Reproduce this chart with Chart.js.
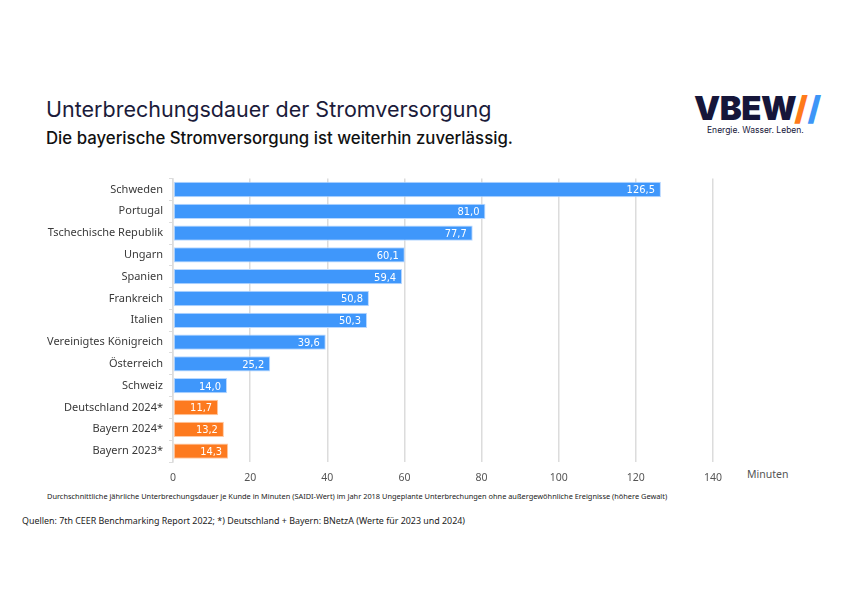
<!DOCTYPE html>
<html>
<head>
<meta charset="utf-8">
<script src="https://cdn.jsdelivr.net/npm/chart.js@4.4.1/dist/chart.umd.min.js"></script>
<style>
  html, body { margin: 0; padding: 0; background: #fff; }
  body { width: 842px; height: 595px; position: relative; overflow: hidden; font-family: "Noto Sans", sans-serif; }
  .title { position: absolute; left: 46px; top: 96px; font-family: "Inter", sans-serif; font-size: 21.5px; color: #1b1b3a; }
  .subtitle { position: absolute; left: 46px; top: 128px; font-family: "Inter", sans-serif; font-size: 16.8px; font-weight: 500; color: #111; }
  .logo { position: absolute; left: 694px; top: 88px; font-family: "Inter", sans-serif; font-weight: 900; font-size: 33px; color: #16163a; letter-spacing: -0.5px; }
  .logo .o { color: #ff7a1a; }
  .logo .b { color: #3d96f7; }
  .claim { position: absolute; left: 707px; top: 125px; font-family: "Inter", sans-serif; font-size: 8.5px; color: #16163a; }
  .unit { position: absolute; left: 747px; top: 467px; font-size: 10.5px; color: #555; }
  .note { position: absolute; left: 47px; top: 491px; font-size: 7.4px; color: #222; }
  .src { position: absolute; left: 22px; top: 514px; font-size: 8.9px; color: #222; }
  #wrap { position: absolute; left: 30px; top: 166px; width: 780px; height: 324px; }
</style>
</head>
<body>
<div class="title">Unterbrechungsdauer der Stromversorgung</div>
<div class="subtitle">Die bayerische Stromversorgung ist weiterhin zuverlässig.</div>
<div class="logo">VBEW<span class="o">/</span><span class="b">/</span></div>
<div class="claim">Energie. Wasser. Leben.</div>
<div class="unit">Minuten</div>
<div class="note">Durchschnittliche jährliche Unterbrechungsdauer je Kunde in Minuten (SAIDI-Wert) im Jahr 2018 Ungeplante Unterbrechungen ohne außergewöhnliche Ereignisse (höhere Gewalt)</div>
<div class="src">Quellen: 7th CEER Benchmarking Report 2022; *) Deutschland + Bayern: BNetzA (Werte für 2023 und 2024)</div>
<div id="wrap"><canvas id="chart"></canvas></div>
<script>
// Categories and values (minutes per customer, SAIDI)
const categories = [
  'Schweden', 'Portugal', 'Tschechische Republik', 'Ungarn', 'Spanien',
  'Frankreich', 'Italien', 'Vereinigtes Königreich', 'Österreich', 'Schweiz',
  'Deutschland 2024*', 'Bayern 2024*', 'Bayern 2023*'
];
const minutes = [126.5, 81.0, 77.7, 60.1, 59.4, 50.8, 50.3, 39.6, 25.2, 14.0, 11.7, 13.2, 14.3];
const isGermany = [false, false, false, false, false, false, false, false, false, false, true, true, true];
const xTicks = [0, 20, 40, 60, 80, 100, 120, 140];

const blue = '#3f97fb';
const orange = '#fd7a1f';

// write the value into the end of each bar
const valueLabels = {
  id: 'valueLabels',
  afterDatasetsDraw(chart) {
    const ctx = chart.ctx;
    const meta = chart.getDatasetMeta(0);
    ctx.save();
    ctx.fillStyle = '#fff';
    ctx.font = '11px "DejaVu Sans Condensed", "DejaVu Sans", sans-serif';
    ctx.textAlign = 'right';
    ctx.textBaseline = 'middle';
    meta.data.forEach((bar, i) => {
      const txt = minutes[i].toFixed(1).replace('.', ',');
      ctx.fillText(txt, bar.x - 6, bar.y + 1);
    });
    ctx.restore();
  }
};

const ctx = document.getElementById('chart').getContext('2d');
new Chart(ctx, {
  type: 'bar',
  data: {
    labels: categories,
    datasets: [{
      data: minutes,
      backgroundColor: isGermany.map(g => g ? orange : blue),
      borderColor: isGermany.map(g => g ? '#ffc9a3' : '#b9d8ff'),
      borderWidth: 1,
      borderSkipped: false,
      barPercentage: 0.7,
      categoryPercentage: 1
    }]
  },
  options: {
    indexAxis: 'y',
    responsive: true,
    maintainAspectRatio: false,
    animation: false,
    layout: { padding: { top: 3, right: 97, bottom: 0, left: 0 } },
    plugins: {
      legend: { display: false },
      tooltip: { enabled: false }
    },
    scales: {
      x: {
        min: 0,
        max: 140,
        afterBuildTicks: axis => { axis.ticks = xTicks.map(v => ({ value: v })); },
        grid: { color: '#dcdcdc', lineWidth: 1.5, drawTicks: false },
        border: { display: false },
        ticks: { color: '#555', font: { family: 'Noto Sans', size: 10.5 }, padding: 10 },
        afterFit: s => { s.height = 28; }
      },
      y: {
        grid: { drawOnChartArea: false, offset: true, tickLength: 4, color: '#dcdcdc' },
        border: { display: true, color: '#dcdcdc', width: 1.5 },
        ticks: { color: '#3a3a3a', font: { family: 'Noto Sans', size: 11 }, padding: 6 },
        afterFit: s => { s.width = 143; }
      }
    }
  },
  plugins: [valueLabels]
});
</script>
</body>
</html>
